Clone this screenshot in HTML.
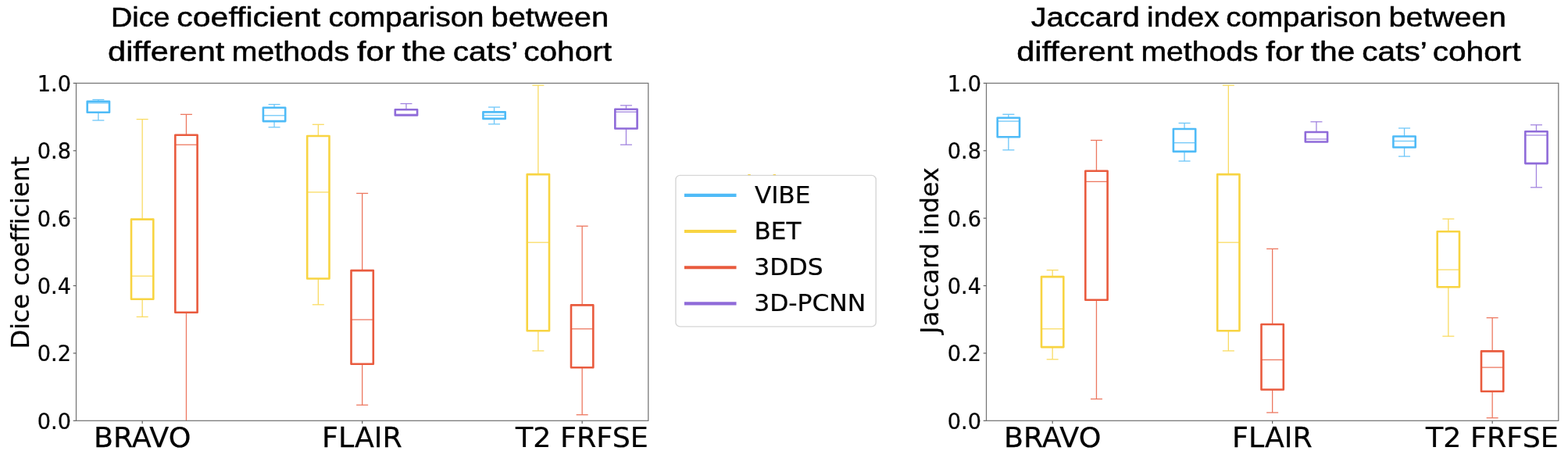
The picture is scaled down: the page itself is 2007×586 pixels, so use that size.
<!DOCTYPE html>
<html lang="en"><head><meta charset="utf-8"><title>Dice coefficient and Jaccard index comparison</title>
<style>html,body{margin:0;padding:0;background:#fff}body{width:2007px;height:586px;overflow:hidden}svg{display:block}text{white-space:pre}.dj{font-family:"DejaVu Sans","Liberation Sans",sans-serif;fill:#000;font-variant-ligatures:none;stroke:#000;stroke-width:0.25px}.ls{font-family:"Liberation Sans","DejaVu Sans",sans-serif;fill:#000;stroke:#000;stroke-width:0.5px;stroke-linejoin:round}</style></head><body>
<svg width="2007" height="586" viewBox="0 0 2007 586">
<rect width="2007" height="586" fill="#fff"/>
<g>
<g stroke="#4fbbf7" stroke-width="1.3" fill="none" opacity="0.82">
<path d="M125.85 127.50V129.80"/>
<path d="M118.35 127.50H133.35"/>
<path d="M125.85 143.80V154.00"/>
<path d="M118.35 154.00H133.35"/>
<path d="M111.70 131.90H140.00"/>
</g>
<rect x="111.70" y="129.80" width="28.30" height="14.00" fill="none" stroke="#4fbbf7" stroke-width="2.6" stroke-linejoin="round"/>
<g stroke="#f8d442" stroke-width="1.3" fill="none" opacity="0.82">
<path d="M182.15 152.60V280.60"/>
<path d="M174.65 152.60H189.65"/>
<path d="M182.15 382.70V405.40"/>
<path d="M174.65 405.40H189.65"/>
<path d="M168.00 353.20H196.30"/>
</g>
<rect x="168.00" y="280.60" width="28.30" height="102.10" fill="none" stroke="#f8d442" stroke-width="2.6" stroke-linejoin="round"/>
<g stroke="#e95b3e" stroke-width="1.3" fill="none" opacity="0.82">
<path d="M238.45 146.40V172.70"/>
<path d="M230.95 146.40H245.95"/>
<path d="M238.45 399.80V538.30"/>
<path d="M224.30 185.20H252.60"/>
</g>
<rect x="224.30" y="172.70" width="28.30" height="227.10" fill="none" stroke="#e95b3e" stroke-width="2.6" stroke-linejoin="round"/>
<g stroke="#4fbbf7" stroke-width="1.3" fill="none" opacity="0.82">
<path d="M351.05 133.60V137.80"/>
<path d="M343.55 133.60H358.55"/>
<path d="M351.05 155.10V162.80"/>
<path d="M343.55 162.80H358.55"/>
<path d="M336.90 147.80H365.20"/>
</g>
<rect x="336.90" y="137.80" width="28.30" height="17.30" fill="none" stroke="#4fbbf7" stroke-width="2.6" stroke-linejoin="round"/>
<g stroke="#f8d442" stroke-width="1.3" fill="none" opacity="0.82">
<path d="M407.35 159.30V174.00"/>
<path d="M399.85 159.30H414.85"/>
<path d="M407.35 356.50V389.80"/>
<path d="M399.85 389.80H414.85"/>
<path d="M393.20 245.90H421.50"/>
</g>
<rect x="393.20" y="174.00" width="28.30" height="182.50" fill="none" stroke="#f8d442" stroke-width="2.6" stroke-linejoin="round"/>
<g stroke="#e95b3e" stroke-width="1.3" fill="none" opacity="0.82">
<path d="M463.65 247.40V346.10"/>
<path d="M456.15 247.40H471.15"/>
<path d="M463.65 465.70V518.20"/>
<path d="M456.15 518.20H471.15"/>
<path d="M449.50 409.00H477.80"/>
</g>
<rect x="449.50" y="346.10" width="28.30" height="119.60" fill="none" stroke="#e95b3e" stroke-width="2.6" stroke-linejoin="round"/>
<g stroke="#8f6bd9" stroke-width="1.3" fill="none" opacity="0.82">
<path d="M519.95 132.60V140.20"/>
<path d="M512.45 132.60H527.45"/>
<path d="M505.80 146.30H534.10"/>
</g>
<rect x="505.80" y="140.20" width="28.30" height="7.30" fill="none" stroke="#8f6bd9" stroke-width="2.6" stroke-linejoin="round"/>
<g stroke="#4fbbf7" stroke-width="1.3" fill="none" opacity="0.82">
<path d="M632.55 137.10V143.40"/>
<path d="M625.05 137.10H640.05"/>
<path d="M632.55 151.90V158.80"/>
<path d="M625.05 158.80H640.05"/>
<path d="M618.40 147.50H646.70"/>
</g>
<rect x="618.40" y="143.40" width="28.30" height="8.50" fill="none" stroke="#4fbbf7" stroke-width="2.6" stroke-linejoin="round"/>
<g stroke="#f8d442" stroke-width="1.3" fill="none" opacity="0.82">
<path d="M688.85 109.20V223.10"/>
<path d="M681.35 109.20H696.35"/>
<path d="M688.85 423.30V448.90"/>
<path d="M681.35 448.90H696.35"/>
<path d="M674.70 310.20H703.00"/>
</g>
<rect x="674.70" y="223.10" width="28.30" height="200.20" fill="none" stroke="#f8d442" stroke-width="2.6" stroke-linejoin="round"/>
<g stroke="#e95b3e" stroke-width="1.3" fill="none" opacity="0.82">
<path d="M745.15 289.30V390.40"/>
<path d="M737.65 289.30H752.65"/>
<path d="M745.15 470.30V530.70"/>
<path d="M737.65 530.70H752.65"/>
<path d="M731.00 420.80H759.30"/>
</g>
<rect x="731.00" y="390.40" width="28.30" height="79.90" fill="none" stroke="#e95b3e" stroke-width="2.6" stroke-linejoin="round"/>
<g stroke="#8f6bd9" stroke-width="1.3" fill="none" opacity="0.82">
<path d="M801.45 134.90V139.70"/>
<path d="M793.95 134.90H808.95"/>
<path d="M801.45 164.50V185.20"/>
<path d="M793.95 185.20H808.95"/>
<path d="M787.30 143.20H815.60"/>
</g>
<rect x="787.30" y="139.70" width="28.30" height="24.80" fill="none" stroke="#8f6bd9" stroke-width="2.6" stroke-linejoin="round"/>
<rect x="97.5" y="106.45" width="732.30" height="431.85" fill="none" stroke="#757575" stroke-width="1.25"/>
<path d="M93.70 538.30H97.50" stroke="#606060" stroke-width="1.2"/>
<path d="M93.70 451.93H97.50" stroke="#606060" stroke-width="1.2"/>
<path d="M93.70 365.56H97.50" stroke="#606060" stroke-width="1.2"/>
<path d="M93.70 279.19H97.50" stroke="#606060" stroke-width="1.2"/>
<path d="M93.70 192.82H97.50" stroke="#606060" stroke-width="1.2"/>
<path d="M93.70 106.45H97.50" stroke="#606060" stroke-width="1.2"/>
<path d="M182.15 538.30V542.10" stroke="#606060" stroke-width="1.2"/>
<path d="M463.65 538.30V542.10" stroke="#606060" stroke-width="1.2"/>
<path d="M745.15 538.30V542.10" stroke="#606060" stroke-width="1.2"/>
</g>
<g>
<g stroke="#4fbbf7" stroke-width="1.3" fill="none" opacity="0.82">
<path d="M1290.85 146.30V150.80"/>
<path d="M1283.35 146.30H1298.35"/>
<path d="M1290.85 175.20V191.90"/>
<path d="M1283.35 191.90H1298.35"/>
<path d="M1276.70 155.10H1305.00"/>
</g>
<rect x="1276.70" y="150.80" width="28.30" height="24.40" fill="none" stroke="#4fbbf7" stroke-width="2.6" stroke-linejoin="round"/>
<g stroke="#f8d442" stroke-width="1.3" fill="none" opacity="0.82">
<path d="M1347.15 345.60V354.10"/>
<path d="M1339.65 345.60H1354.65"/>
<path d="M1347.15 444.10V459.80"/>
<path d="M1339.65 459.80H1354.65"/>
<path d="M1333.00 420.80H1361.30"/>
</g>
<rect x="1333.00" y="354.10" width="28.30" height="90.00" fill="none" stroke="#f8d442" stroke-width="2.6" stroke-linejoin="round"/>
<g stroke="#e95b3e" stroke-width="1.3" fill="none" opacity="0.82">
<path d="M1403.45 179.50V218.80"/>
<path d="M1395.95 179.50H1410.95"/>
<path d="M1403.45 383.80V510.50"/>
<path d="M1395.95 510.50H1410.95"/>
<path d="M1389.30 232.40H1417.60"/>
</g>
<rect x="1389.30" y="218.80" width="28.30" height="165.00" fill="none" stroke="#e95b3e" stroke-width="2.6" stroke-linejoin="round"/>
<g stroke="#4fbbf7" stroke-width="1.3" fill="none" opacity="0.82">
<path d="M1516.05 157.50V165.00"/>
<path d="M1508.55 157.50H1523.55"/>
<path d="M1516.05 193.90V206.10"/>
<path d="M1508.55 206.10H1523.55"/>
<path d="M1501.90 182.70H1530.20"/>
</g>
<rect x="1501.90" y="165.00" width="28.30" height="28.90" fill="none" stroke="#4fbbf7" stroke-width="2.6" stroke-linejoin="round"/>
<g stroke="#f8d442" stroke-width="1.3" fill="none" opacity="0.82">
<path d="M1572.35 109.20V223.10"/>
<path d="M1564.85 109.20H1579.85"/>
<path d="M1572.35 423.30V448.90"/>
<path d="M1564.85 448.90H1579.85"/>
<path d="M1558.20 310.20H1586.50"/>
</g>
<rect x="1558.20" y="223.10" width="28.30" height="200.20" fill="none" stroke="#f8d442" stroke-width="2.6" stroke-linejoin="round"/>
<g stroke="#e95b3e" stroke-width="1.3" fill="none" opacity="0.82">
<path d="M1628.65 318.40V415.00"/>
<path d="M1621.15 318.40H1636.15"/>
<path d="M1628.65 498.50V527.90"/>
<path d="M1621.15 527.90H1636.15"/>
<path d="M1614.50 460.40H1642.80"/>
</g>
<rect x="1614.50" y="415.00" width="28.30" height="83.50" fill="none" stroke="#e95b3e" stroke-width="2.6" stroke-linejoin="round"/>
<g stroke="#8f6bd9" stroke-width="1.3" fill="none" opacity="0.82">
<path d="M1684.95 155.80V169.00"/>
<path d="M1677.45 155.80H1692.45"/>
<path d="M1670.80 178.00H1699.10"/>
</g>
<rect x="1670.80" y="169.00" width="28.30" height="12.50" fill="none" stroke="#8f6bd9" stroke-width="2.6" stroke-linejoin="round"/>
<g stroke="#4fbbf7" stroke-width="1.3" fill="none" opacity="0.82">
<path d="M1797.55 164.00V174.50"/>
<path d="M1790.05 164.00H1805.05"/>
<path d="M1797.55 188.50V200.10"/>
<path d="M1790.05 200.10H1805.05"/>
<path d="M1783.40 180.50H1811.70"/>
</g>
<rect x="1783.40" y="174.50" width="28.30" height="14.00" fill="none" stroke="#4fbbf7" stroke-width="2.6" stroke-linejoin="round"/>
<g stroke="#f8d442" stroke-width="1.3" fill="none" opacity="0.82">
<path d="M1853.85 280.10V296.30"/>
<path d="M1846.35 280.10H1861.35"/>
<path d="M1853.85 367.20V430.20"/>
<path d="M1846.35 430.20H1861.35"/>
<path d="M1839.70 345.10H1868.00"/>
</g>
<rect x="1839.70" y="296.30" width="28.30" height="70.90" fill="none" stroke="#f8d442" stroke-width="2.6" stroke-linejoin="round"/>
<g stroke="#e95b3e" stroke-width="1.3" fill="none" opacity="0.82">
<path d="M1910.15 406.60V449.40"/>
<path d="M1902.65 406.60H1917.65"/>
<path d="M1910.15 500.70V534.70"/>
<path d="M1902.65 534.70H1917.65"/>
<path d="M1896.00 470.10H1924.30"/>
</g>
<rect x="1896.00" y="449.40" width="28.30" height="51.30" fill="none" stroke="#e95b3e" stroke-width="2.6" stroke-linejoin="round"/>
<g stroke="#8f6bd9" stroke-width="1.3" fill="none" opacity="0.82">
<path d="M1966.45 159.80V168.30"/>
<path d="M1958.95 159.80H1973.95"/>
<path d="M1966.45 209.10V239.80"/>
<path d="M1958.95 239.80H1973.95"/>
<path d="M1952.30 173.00H1980.60"/>
</g>
<rect x="1952.30" y="168.30" width="28.30" height="40.80" fill="none" stroke="#8f6bd9" stroke-width="2.6" stroke-linejoin="round"/>
<rect x="1262.5" y="106.45" width="732.30" height="431.85" fill="none" stroke="#757575" stroke-width="1.25"/>
<path d="M1258.70 538.30H1262.50" stroke="#606060" stroke-width="1.2"/>
<path d="M1258.70 451.93H1262.50" stroke="#606060" stroke-width="1.2"/>
<path d="M1258.70 365.56H1262.50" stroke="#606060" stroke-width="1.2"/>
<path d="M1258.70 279.19H1262.50" stroke="#606060" stroke-width="1.2"/>
<path d="M1258.70 192.82H1262.50" stroke="#606060" stroke-width="1.2"/>
<path d="M1258.70 106.45H1262.50" stroke="#606060" stroke-width="1.2"/>
<path d="M1347.15 538.30V542.10" stroke="#606060" stroke-width="1.2"/>
<path d="M1628.65 538.30V542.10" stroke="#606060" stroke-width="1.2"/>
<path d="M1910.15 538.30V542.10" stroke="#606060" stroke-width="1.2"/>
</g>
<rect x="864.9" y="224.4" width="256.30" height="193.50" rx="5.5" ry="5.5" fill="#fff" fill-opacity="0.8" stroke="#d6d6d6" stroke-width="1.4"/>
<rect x="957.2" y="223.0" width="3.6" height="1.0" rx="0.5" fill="#f2cf45"/><rect x="989.5" y="223.0" width="3.6" height="1.0" rx="0.5" fill="#f2cf45"/>
<path d="M875.9 249.90H942.5" stroke="#4fbbf7" stroke-width="4.1"/>
<path d="M875.9 296.05H942.5" stroke="#f8d442" stroke-width="4.1"/>
<path d="M875.9 342.20H942.5" stroke="#e95b3e" stroke-width="4.1"/>
<path d="M875.9 388.35H942.5" stroke="#8f6bd9" stroke-width="4.1"/>
<text transform="translate(141.99,33.70) scale(1.0716,1)" class="ls" font-size="35.3">Dice</text>
<text transform="translate(226.30,33.70) scale(1.1617,1)" class="ls" font-size="35.3">coefficient</text>
<text transform="translate(420.41,33.70) scale(1.0918,1)" class="ls" font-size="35.3">comparison</text>
<text transform="translate(628.51,33.70) scale(1.1289,1)" class="ls" font-size="35.3">between</text>
<text transform="translate(1319.76,33.70) scale(1.1258,1)" class="ls" font-size="35.3">Jaccard</text>
<text transform="translate(1468.06,33.70) scale(1.0960,1)" class="ls" font-size="35.3">index</text>
<text transform="translate(1569.26,33.70) scale(1.0917,1)" class="ls" font-size="35.3">comparison</text>
<text transform="translate(1777.40,33.70) scale(1.1272,1)" class="ls" font-size="35.3">between</text>
<text transform="translate(138.04,77.50) scale(1.1766,1)" class="ls" font-size="35.3">different</text>
<text transform="translate(296.84,77.50) scale(1.1114,1)" class="ls" font-size="35.3">methods</text>
<text transform="translate(456.94,77.50) scale(1.1817,1)" class="ls" font-size="35.3">for</text>
<text transform="translate(514.42,77.50) scale(1.1533,1)" class="ls" font-size="35.3">the</text>
<text transform="translate(579.83,77.50) scale(1.1502,1)" class="ls" font-size="35.3">cats’</text>
<text transform="translate(670.20,77.50) scale(1.1503,1)" class="ls" font-size="35.3">cohort</text>
<text transform="translate(1301.29,77.50) scale(1.1757,1)" class="ls" font-size="35.3">different</text>
<text transform="translate(1460.38,77.50) scale(1.1106,1)" class="ls" font-size="35.3">methods</text>
<text transform="translate(1620.36,77.50) scale(1.1786,1)" class="ls" font-size="35.3">for</text>
<text transform="translate(1677.66,77.50) scale(1.1575,1)" class="ls" font-size="35.3">the</text>
<text transform="translate(1743.33,77.50) scale(1.1500,1)" class="ls" font-size="35.3">cats’</text>
<text transform="translate(1833.66,77.50) scale(1.1508,1)" class="ls" font-size="35.3">cohort</text>
<text transform="translate(119.89,572.10) scale(1.0157,1)" class="dj" font-size="35.9">BRAVO</text>
<text transform="translate(412.02,572.10) scale(1.0127,1)" class="dj" font-size="35.9">FLAIR</text>
<text transform="translate(660.07,572.10) scale(1.0150,1)" class="dj" font-size="35.9">T2 FRFSE</text>
<text transform="translate(47.80,548.75) scale(0.9817,1)" class="dj" font-size="27.6">0.0</text>
<text transform="translate(47.80,462.39) scale(0.9817,1)" class="dj" font-size="27.6">0.2</text>
<text transform="translate(47.80,376.03) scale(0.9817,1)" class="dj" font-size="27.6">0.4</text>
<text transform="translate(47.80,289.67) scale(0.9817,1)" class="dj" font-size="27.6">0.6</text>
<text transform="translate(47.80,203.31) scale(0.9817,1)" class="dj" font-size="27.6">0.8</text>
<text transform="translate(47.80,116.95) scale(0.9817,1)" class="dj" font-size="27.6">1.0</text>
<text transform="translate(1284.89,572.10) scale(1.0157,1)" class="dj" font-size="35.9">BRAVO</text>
<text transform="translate(1577.02,572.10) scale(1.0127,1)" class="dj" font-size="35.9">FLAIR</text>
<text transform="translate(1825.07,572.10) scale(1.0150,1)" class="dj" font-size="35.9">T2 FRFSE</text>
<text transform="translate(1212.80,548.75) scale(0.9817,1)" class="dj" font-size="27.6">0.0</text>
<text transform="translate(1212.80,462.39) scale(0.9817,1)" class="dj" font-size="27.6">0.2</text>
<text transform="translate(1212.80,376.03) scale(0.9817,1)" class="dj" font-size="27.6">0.4</text>
<text transform="translate(1212.80,289.67) scale(0.9817,1)" class="dj" font-size="27.6">0.6</text>
<text transform="translate(1212.80,203.31) scale(0.9817,1)" class="dj" font-size="27.6">0.8</text>
<text transform="translate(1212.80,116.95) scale(0.9817,1)" class="dj" font-size="27.6">1.0</text>
<text transform="translate(37.00,446.14) rotate(-90) scale(0.9917,1)" class="dj" font-size="32.0">Dice coefficient</text>
<text transform="translate(1200.50,426.90) rotate(-90) scale(0.9914,1)" class="dj" font-size="32.0">Jaccard index</text>
<text transform="translate(965.99,260.10) scale(1.0112,1)" class="dj" font-size="30.7">VIBE</text>
<text transform="translate(965.55,306.13) scale(1.0102,1)" class="dj" font-size="30.7">BET</text>
<text transform="translate(965.34,352.16) scale(1.0232,1)" class="dj" font-size="30.7">3DDS</text>
<text transform="translate(965.21,398.19) scale(1.0213,1)" class="dj" font-size="30.7">3D-PCNN</text>
</svg></body></html>
